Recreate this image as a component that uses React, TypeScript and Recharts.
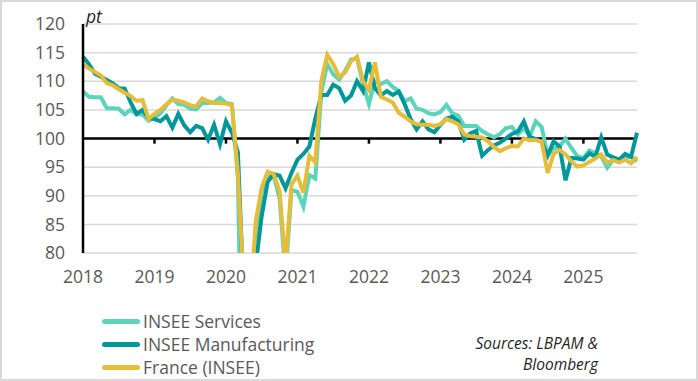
import { LineChart, Line, XAxis, YAxis, CartesianGrid, ReferenceLine } from "recharts";

// monthly readings, Jan 2018 -> Oct 2025
const services = [
  108.2, 107.3, 107.2, 107.2, 105.3, 105.3, 105.2, 104.2, 105.0, 104.2, 104.2, 103.1,
  103.6, 104.4, 105.8, 107.0, 106.0, 105.9, 105.2, 105.1, 106.2, 106.2, 106.3, 107.1,
  106.2, 106.0, 93.0, 40.0, 60.0, 83.0, 90.5, 93.5, 93.5, 89.5, 76.0, 91.0,
  90.7, 88.1, 93.6, 93.0, 108.0, 113.0, 111.2, 110.3, 111.8, 113.8, 114.0, 109.5,
  106.0, 110.0, 109.5, 110.0, 109.0, 108.3, 106.5, 107.0, 105.2, 105.0, 104.4, 104.2,
  104.6, 105.9, 104.4, 104.0, 102.2, 102.2, 102.2, 101.3, 100.7, 100.2, 100.8, 101.8,
  102.0, 100.7, 101.8, 100.4, 103.0, 102.0, 97.0, 98.3, 98.6, 100.0, 98.3, 96.9,
  96.6, 97.9, 97.4, 96.9, 94.9, 96.3, 96.0, 96.6, 96.8, 96.0,
];

const manufacturing = [
  114.3, 113.0, 111.3, 110.8, 110.2, 109.6, 108.8, 108.7, 106.3, 104.3, 105.0, 103.6,
  103.4, 103.0, 103.9, 101.9, 104.3, 102.3, 101.1, 102.2, 101.8, 99.8, 102.4, 99.0,
  103.0, 101.0, 97.6, 72.0, 70.0, 78.0, 86.5, 92.4, 93.8, 93.5, 91.3, 94.0,
  96.3, 97.3, 98.6, 103.5, 107.6, 107.6, 109.4, 108.8, 106.6, 107.5, 110.0, 108.3,
  113.3, 108.8, 107.5, 108.3, 107.6, 108.2, 106.0, 103.4, 101.6, 103.0, 101.6, 101.1,
  102.4, 103.5, 103.8, 103.0, 99.8, 100.9, 101.3, 97.0, 98.0, 98.8, 99.3, 100.0,
  100.8, 101.2, 103.0, 100.3, 99.9, 99.4, 97.0, 99.5, 98.6, 92.7, 96.6, 96.5,
  96.3, 97.4, 96.8, 100.2, 97.2, 96.7, 96.3, 97.3, 96.8, 101.0,
];

const france = [
  113.0, 112.2, 111.6, 111.0, 109.7, 109.3, 108.6, 108.0, 107.4, 106.6, 106.7, 103.4,
  104.3, 105.0, 106.0, 106.8, 106.6, 106.3, 105.8, 105.6, 107.0, 106.5, 106.2, 106.2,
  106.1, 105.8, 94.0, 74.0, 70.0, 85.5, 91.5, 94.2, 93.8, 90.8, 78.0, 92.0,
  93.5, 90.5, 97.0, 95.8, 110.0, 114.6, 113.0, 110.8, 111.5, 113.5, 114.3, 110.0,
  108.5, 113.3, 107.3, 106.8, 106.3, 104.5, 103.8, 103.0, 102.5, 102.4, 102.4, 102.2,
  102.5, 103.4, 103.0, 102.5, 100.7, 100.4, 100.3, 100.2, 99.5, 98.5, 97.8, 98.3,
  98.7, 98.6, 100.0, 99.7, 99.7, 99.5, 94.0, 97.3, 98.0, 97.2, 96.0, 95.1,
  95.3, 95.9, 96.5, 97.2, 95.8, 96.2, 95.8, 96.3, 95.7, 96.8,
];

const years = [2018, 2019, 2020, 2021, 2022, 2023, 2024, 2025];
const yTicks = [80, 85, 90, 95, 100, 105, 110, 115, 120];

const data = services.map((v, i) => ({
  t: 2018 + i / 12,
  services: v,
  manufacturing: manufacturing[i],
  france: france[i],
}));

const C_SERV = "#5cd4bd";
const C_MANU = "#00979b";
const C_FR = "#e4bd3b";
const GREY = "#595959";

const legend = [
  { name: "INSEE Services", color: C_SERV },
  { name: "INSEE Manufacturing", color: C_MANU },
  { name: "France (INSEE)", color: C_FR },
];

export default function App() {
  return (
    <div style={{ position: "relative", width: 698, height: 381, fontFamily: "'Open Sans', sans-serif", background: "#fff" }}>
      <style>{"body{margin:0}"}</style>
      <LineChart width={698} height={290} data={data} margin={{ top: 24, right: 61, left: 0, bottom: 7 }}>
        <CartesianGrid vertical={false} stroke="#d9d9d9" strokeWidth={1.5} />
        <XAxis
          type="number"
          dataKey="t"
          domain={[2018, 2018 + 93 / 12]}
          ticks={years}
          interval={0}
          tickFormatter={(v) => String(v)}
          axisLine={false}
          tickLine={false}
          tickSize={0}
          tickMargin={18}
          height={30}
          tick={{ fill: GREY, fontSize: 17.5 }}
        />
        <YAxis
          domain={[80, 120]}
          ticks={yTicks}
          allowDataOverflow
          width={83}
          tickLine={false}
          tickSize={0}
          tickMargin={18}
          axisLine={{ stroke: "#000", strokeWidth: 2.5 }}
          tick={{ fill: GREY, fontSize: 17.5 }}
        />
        <ReferenceLine y={100} stroke="#000" strokeWidth={2.5} />
        {years.slice(1).map((yr) => (
          <ReferenceLine
            key={yr}
            segment={[{ x: yr, y: 100 }, { x: yr, y: 99.1 }]}
            stroke="#000"
            strokeWidth={2.5}
          />
        ))}
        <Line type="linear" dataKey="services" stroke={C_SERV} strokeWidth={4} dot={false} isAnimationActive={false} />
        <Line type="linear" dataKey="manufacturing" stroke={C_MANU} strokeWidth={4} dot={false} isAnimationActive={false} />
        <Line type="linear" dataKey="france" stroke={C_FR} strokeWidth={4} dot={false} isAnimationActive={false} />
      </LineChart>

      <div style={{ position: "absolute", left: 86, top: 6, fontSize: 17.5, lineHeight: "20px", fontStyle: "italic", color: "#262626" }}>
        pt
      </div>

      <div style={{ position: "absolute", left: 102, top: 310 }}>
        {legend.map((l) => (
          <div key={l.name} style={{ display: "flex", alignItems: "center", height: 23, fontSize: 17.5, lineHeight: "23px", color: GREY }}>
            <span style={{ display: "inline-block", width: 38, height: 5, borderRadius: 3, background: l.color, marginRight: 3 }} />
            {l.name}
          </div>
        ))}
      </div>

      <div style={{ position: "absolute", right: 100, top: 333, fontSize: 15.5, lineHeight: "21px", fontStyle: "italic", color: "#262626", textAlign: "right" }}>
        Sources: LBPAM &amp;
        <br />
        Bloomberg
      </div>

      <div style={{ position: "absolute", inset: 0, border: "2px solid #d9d9d9", pointerEvents: "none" }} />
    </div>
  );
}
